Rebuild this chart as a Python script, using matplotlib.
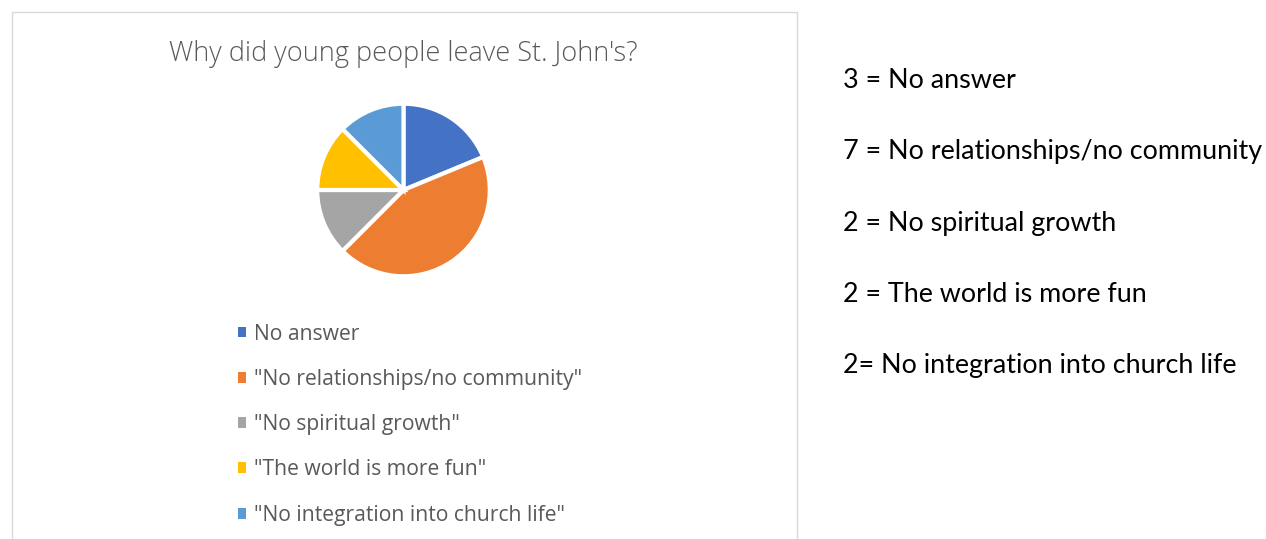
import matplotlib
matplotlib.use("Agg")
import matplotlib.pyplot as plt
from matplotlib.patches import Rectangle

title = "Why did young people leave St. John's?"
categories = ["No answer", '"No relationships/no community"', '"No spiritual growth"',
              '"The world is more fun"', '"No integration into church life"']
counts = [3, 7, 2, 2, 2]
colors = ["#4472C4", "#ED7D31", "#A5A5A5", "#FFC000", "#5B9BD5"]
notes = ["3 = No answer", "7 = No relationships/no community", "2 = No spiritual growth",
         "2 = The world is more fun", "2= No integration into church life"]

W, H = 1266, 539
fig = plt.figure(figsize=(W / 100, H / 100), dpi=100)
fig.patch.set_facecolor("white")

def fx(x):
    return x / W

def fy(y):
    return 1 - y / H

# chart border
fig.add_artist(Rectangle((fx(12), fy(560)), fx(797) - fx(12), fy(12) - fy(560),
                         transform=fig.transFigure, fill=False, edgecolor="#D9D9D9", linewidth=1))

fig.text(fx(403), fy(54), title, ha="center", va="center", fontsize=19.5,
         color="#595959", family="Open Sans", fontweight="light")

cx, cy, r = 403.5, 190, 88
ax = fig.add_axes([fx(cx - r), fy(cy + r), fx(2 * r), fy(cy - r) - fy(cy + r)])
wedges, _ = ax.pie(counts, colors=colors, startangle=90, counterclock=False, radius=1,
                   wedgeprops=dict(edgecolor="white", linewidth=3))
ax.set_xlim(-1.02, 1.02)
ax.set_ylim(-1.02, 1.02)
ax.set_aspect("equal")
ax.axis("off")

leg = fig.legend(wedges, categories, loc="upper left", bbox_to_anchor=(fx(227), fy(313)),
                 frameon=False, handlelength=0.42, handleheight=0.42, handletextpad=0.35,
                 labelspacing=1.15, borderpad=0, prop=dict(family="Open Sans", size=15.2))
for h in leg.legend_handles:
    h.set_edgecolor("none")
for t in leg.get_texts():
    t.set_color("#595959")

ys = [80, 152, 223, 295, 366]
for y, s in zip(ys, notes):
    fig.text(fx(843), fy(y), s, ha="left", va="center", fontsize=19.4, color="black",
             family="Lato")

fig.savefig("out.png", dpi=100, facecolor="white")
